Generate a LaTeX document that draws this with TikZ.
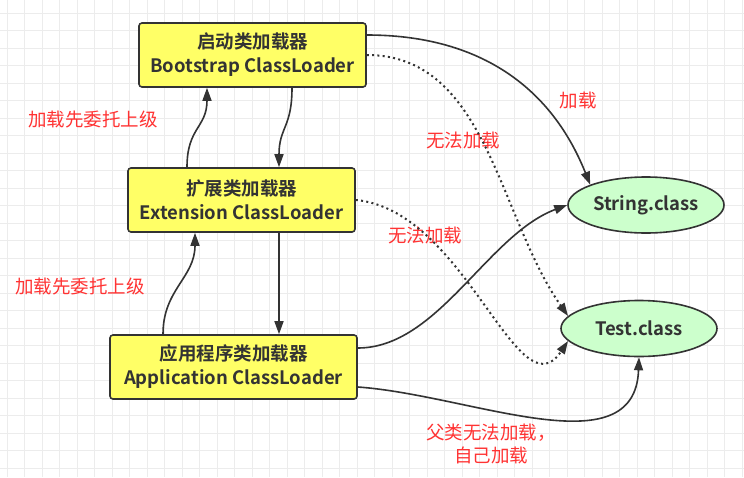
\documentclass[tikz,border=0pt]{standalone}
\usepackage{fontspec}
\setmainfont{Noto Sans CJK SC}[BoldFont={Noto Sans CJK SC Bold}]
\usetikzlibrary{arrows.meta,shapes.geometric}

\definecolor{boxyellow}{RGB}{255,255,102}
\definecolor{classgreen}{RGB}{204,255,204}
\definecolor{labelred}{RGB}{255,51,51}
\definecolor{edgegray}{RGB}{51,51,51}
\definecolor{gridgray}{RGB}{236,236,236}

\begin{document}
\begin{tikzpicture}[x=1pt, y=-1pt,
  gridline/.style={draw=gridgray, line width=1pt},
  loader/.style={rectangle, rounded corners=3pt, draw=edgegray, line width=1.6pt,
    fill=boxyellow, text=edgegray, minimum height=64pt, inner sep=0pt, align=center,
    font=\fontsize{18.5}{24}\selectfont\bfseries},
  classfile/.style={ellipse, draw=edgegray, line width=1.6pt, fill=classgreen,
    text=edgegray, minimum width=156pt, minimum height=56pt, inner sep=0pt,
    font=\fontsize{18.5}{24}\selectfont\bfseries},
  lbl/.style={text=labelred, inner sep=0pt, align=center,
    font=\fontsize{18.5}{23}\selectfont},
  arr/.style={draw=edgegray, line width=1.6pt, -{Triangle[length=13pt,width=9pt]}},
  dotarr/.style={arr, line width=2pt, dash pattern=on 2pt off 3.3pt}]

\useasboundingbox[fill=white] (0,0) rectangle (744,477);

% Draw Grid
\foreach \i in {0,...,42} {\draw[gridline] (7.3+17.5*\i,0) -- (7.3+17.5*\i,477);}
\foreach \j in {0,...,26} {\draw[gridline] (0,13.3+17.5*\j) -- (744,13.3+17.5*\j);}

% Loaders
\node[loader, minimum width=227pt] (boot) at (252.5,55) {启动类加载器\\Bootstrap ClassLoader};
\node[loader, minimum width=227pt] (ext) at (241.5,200) {扩展类加载器\\Extension ClassLoader};
\node[loader, minimum width=247pt] (app) at (233.5,367) {应用程序类加载器\\Application ClassLoader};

% Classes
\node[classfile] (strcls) at (646,205) {String.class};
\node[classfile] (testcls) at (639,328.5) {Test.class};

% Labels
\node[lbl] (upA) at (93,120) {加载先委托上级};
\node[lbl] (upB) at (80,287) {加载先委托上级};
\node[lbl] (load) at (578,100) {加载};
\node[lbl] (noA) at (463,140) {无法加载};
\node[lbl] (noB) at (425,235) {无法加载};
\node[lbl] (self) at (491,444) {父类无法加载，\\自己加载};

% Delegation up and down
\draw[arr] ([xshift=-54.5pt]ext.north) .. controls +(0,-40) and +(0,40) .. ([xshift=-45.5pt]boot.south);
\draw[arr] ([xshift=39.5pt]boot.south) .. controls +(0,40) and +(0,-40) .. ([xshift=37.5pt]ext.north);
\draw[arr] ([xshift=-70.5pt]app.north) .. controls +(0,-45) and +(0,45) .. ([xshift=-46.5pt]ext.south);
\draw[arr] ([xshift=37.5pt]ext.south) -- ([xshift=37.5pt]ext.south |- app.north);

% Loading
\draw[arr] ([yshift=20pt]boot.east) .. controls +(110,0) and +(-40,-100) .. (strcls.160);
\draw[dotarr] (boot.east) .. controls +(120,0) and +(-70,-100) .. (testcls.170);
\draw[dotarr] (ext.east) .. controls +(110,10) and +(-50,75) .. (testcls.190);
\draw[arr] ([yshift=19pt]app.east) .. controls +(80,0) and +(-80,30) .. (strcls.west);
\draw[arr] ([yshift=-20pt]app.east) .. controls +(113,8) and +(-4,112) .. (testcls.south);
\end{tikzpicture}
\end{document}
